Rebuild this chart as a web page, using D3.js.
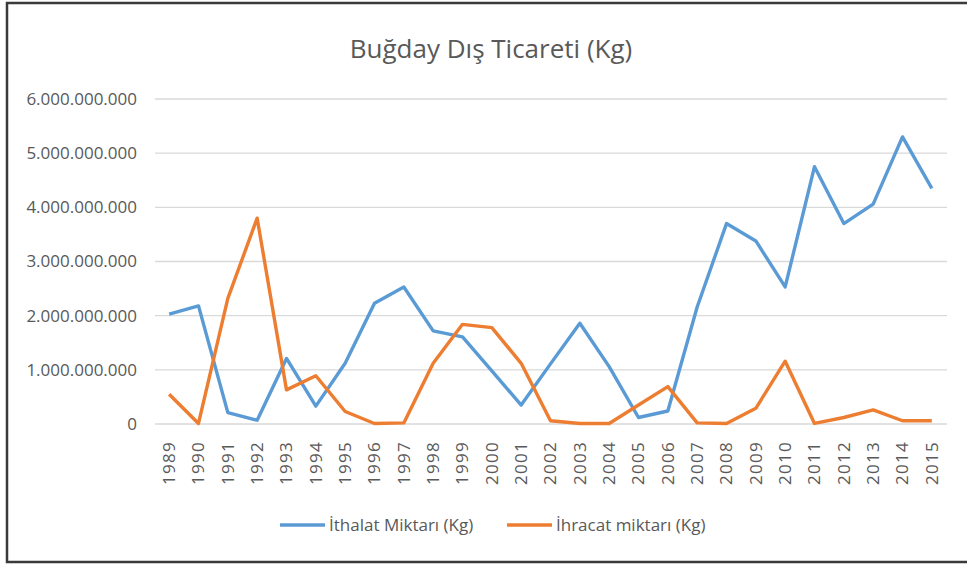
<!DOCTYPE html>
<html>
<head>
<meta charset="utf-8">
<script src="https://cdn.jsdelivr.net/npm/d3@7"></script>
<style>
  html, body { margin: 0; padding: 0; background: #fff; }
  svg { display: block; font-family: "Open Sans", sans-serif; }
</style>
</head>
<body>
<div id="chart"></div>
<script>
// ─── Data ─────────────────────────────────────────────────────
const years = [1989, 1990, 1991, 1992, 1993, 1994, 1995, 1996, 1997, 1998, 1999,
  2000, 2001, 2002, 2003, 2004, 2005, 2006, 2007, 2008, 2009, 2010, 2011, 2012,
  2013, 2014, 2015];

// import (blue)
const ithalat = [2.03e9, 2.18e9, 0.21e9, 0.07e9, 1.21e9, 0.33e9, 1.12e9, 2.23e9,
  2.53e9, 1.72e9, 1.61e9, 0.98e9, 0.35e9, 1.11e9, 1.86e9, 1.06e9, 0.12e9, 0.24e9,
  2.16e9, 3.70e9, 3.38e9, 2.53e9, 4.75e9, 3.70e9, 4.06e9, 5.30e9, 4.35e9];

// export (orange)
const ihracat = [0.55e9, 0.01e9, 2.32e9, 3.80e9, 0.63e9, 0.89e9, 0.23e9, 0.01e9,
  0.02e9, 1.12e9, 1.84e9, 1.78e9, 1.12e9, 0.06e9, 0.01e9, 0.01e9, 0.35e9, 0.69e9,
  0.02e9, 0.01e9, 0.29e9, 1.16e9, 0.01e9, 0.12e9, 0.26e9, 0.06e9, 0.06e9];

const yTicks = [0, 1e9, 2e9, 3e9, 4e9, 5e9, 6e9];
const seriesNames = ["İthalat Miktarı (Kg)", "İhracat miktarı (Kg)"];
const title = "Buğday Dış Ticareti (Kg)";

// ─── Setup ────────────────────────────────────────────────────
const W = 967, H = 568;
const svg = d3.select("#chart").append("svg")
  .attr("width", W).attr("height", H);

const textCol = "#595959";
const colors = ["#5b9bd5", "#ed7d31"];

// frame
svg.append("path")
  .attr("d", `M${W},3 H7 V562 H${W}`)
  .attr("fill", "none")
  .attr("stroke", "#3a3a3a")
  .attr("stroke-width", 2.5);

// ─── Scales ───────────────────────────────────────────────────
const x = d3.scaleBand().domain(years).range([154.5, 946.5]);
const y = d3.scaleLinear().domain([0, 6e9]).range([424, 99]);
const cx = d => x(d) + x.bandwidth() / 2;

// ─── Title ────────────────────────────────────────────────────
svg.append("text")
  .attr("x", 491).attr("y", 58)
  .attr("text-anchor", "middle")
  .attr("fill", textCol)
  .style("font-size", "26px")
  .text(title);

// ─── Gridlines & y axis ───────────────────────────────────────
const fmt = v => d3.format(",")(v).replace(/,/g, ".");

svg.append("g")
  .selectAll("line")
  .data(yTicks)
  .join("line")
  .attr("x1", 155).attr("x2", 947)
  .attr("y1", d => y(d)).attr("y2", d => y(d))
  .attr("stroke", "#d9d9d9")
  .attr("stroke-width", 1.3);

svg.append("g")
  .selectAll("text")
  .data(yTicks)
  .join("text")
  .attr("x", 137)
  .attr("y", d => y(d))
  .attr("dy", "0.35em")
  .attr("text-anchor", "end")
  .attr("fill", textCol)
  .style("font-size", "17px")
  .text(fmt);

// ─── X labels (rotated) ───────────────────────────────────────
svg.append("g")
  .selectAll("text")
  .data(years)
  .join("text")
  .attr("transform", d => `translate(${cx(d)},441) rotate(-90)`)
  .attr("dy", "0.35em")
  .attr("text-anchor", "end")
  .attr("fill", textCol)
  .style("font-size", "17px")
  .style("letter-spacing", "1.3px")
  .text(d => d);

// ─── Lines ────────────────────────────────────────────────────
const line = d3.line()
  .x((d, i) => cx(years[i]))
  .y(d => y(d));

[ithalat, ihracat].forEach((s, k) => {
  svg.append("path")
    .datum(s)
    .attr("fill", "none")
    .attr("stroke", colors[k])
    .attr("stroke-width", 3.4)
    .attr("stroke-linejoin", "round")
    .attr("d", line);
});

// ─── Legend ───────────────────────────────────────────────────
const legendPos = [280, 507];
const legend = svg.append("g");
seriesNames.forEach((n, k) => {
  const g = legend.append("g").attr("transform", `translate(${legendPos[k]},525)`);
  g.append("line")
    .attr("x1", 0).attr("x2", 45)
    .attr("stroke", colors[k])
    .attr("stroke-width", 3.4);
  g.append("text")
    .attr("x", 49)
    .attr("dy", "0.35em")
    .attr("fill", textCol)
    .style("font-size", "17px")
    .text(n);
});
</script>
</body>
</html>
